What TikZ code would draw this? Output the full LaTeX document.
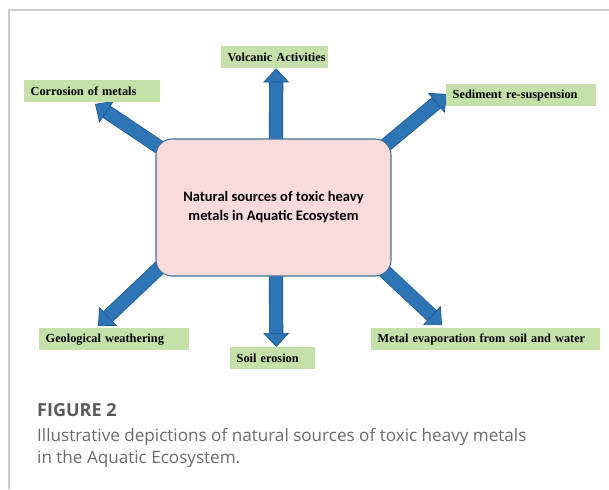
\documentclass[tikz,border=0pt]{standalone}
\usepackage{fontspec}
\setmainfont{Liberation Serif}
\newfontfamily\hubfont{Carlito}
\newfontfamily\capfont{Open Sans}
\usetikzlibrary{arrows.meta,backgrounds}
\definecolor{cHub}{HTML}{F9DBDB}
\definecolor{cHubEdge}{HTML}{41719C}
\definecolor{cLeaf}{HTML}{C5E0A9}
\definecolor{cFlow}{HTML}{2E75B6}
\definecolor{cFlowEdge}{HTML}{1F5A96}
\definecolor{cFrame}{HTML}{CCCCCC}
\definecolor{cCap}{HTML}{6A6A6A}
\tikzset{
  hub/.style={draw=cHubEdge, fill=cHub, line width=1.1pt, rounded corners=16pt,
              minimum width=235pt, minimum height=137pt, align=center,
              font=\hubfont\bfseries\fontsize{14.5}{19}\selectfont},
  leaf/.style={fill=cLeaf, anchor=north west, inner xsep=0pt, inner ysep=0pt,
               minimum height=22pt, text width=#1, align=left,
               font=\bfseries\fontsize{12.3}{14}\selectfont,
               execute at begin node={\hspace*{6.5pt}}},
  fatflow/.style={draw=cFlow, line width=12.6pt,
              -{Triangle[length=14pt, width=26pt, fill=cFlow, color=cFlowEdge, line width=0.7pt]},
              preaction={draw=cFlowEdge, line width=14.2pt, -, shorten >=12pt}},
  capt/.style={anchor=base west, inner sep=0pt, text=cCap,
               font=\capfont\fontsize{17.1}{21.6}\selectfont},
}

\begin{document}
\begin{tikzpicture}[x=1pt,y=-1pt]
\useasboundingbox (0,0) rectangle (609,489);

% ================================================== frame
\draw[cFrame, line width=1.3pt] (9,489) -- (9,10) -- (609,10);

% ================================================== hub
\node[hub] (hub) at (273.5,207.5) {Natural sources of toxic heavy\\metals in Aquatic Ecosystem};

% ================================================== sources
\node[leaf=107pt] (volc) at (221,46)  {Volcanic Activities};
\node[leaf=136pt] (corr) at (24,80)   {Corrosion of metals};
\node[leaf=150pt] (sedi) at (446,84)  {Sediment re-suspension};
\node[leaf=150pt] (geol) at (39,328)  {Geological weathering};
\node[leaf=85pt]  (soil) at (230,347) {Soil erosion};
\node[leaf=229pt] (meta) at (371,328) {Metal evaporation from soil and water};

% ================================================== arrows (behind the hub)
\coordinate (sUL) at (180,161); \coordinate (eUL) at (95,104);
\coordinate (sUR) at (363,164); \coordinate (eUR) at (447,94);
\coordinate (sLL) at (175,253); \coordinate (eLL) at (98,326);
\coordinate (sLR) at (365,253); \coordinate (eLR) at (442,325);
\begin{scope}[on background layer]
  \draw[fatflow] ([xshift=2.5pt,yshift=-12pt]hub.north) -- ([xshift=1.5pt]volc.south);
  \draw[fatflow] ([xshift=2.5pt,yshift=12pt]hub.south)  -- ([xshift=3.5pt]soil.north);
  \draw[fatflow] (sUL) -- (eUL);
  \draw[fatflow] (sUR) -- (eUR);
  \draw[fatflow] (sLL) -- (eLL);
  \draw[fatflow] (sLR) -- (eLR);
\end{scope}

% ================================================== caption
\node[capt, text=cCap!85!black, font=\capfont\bfseries\fontsize{18}{21.6}\selectfont]
      (fig) at (37,416.7) {FIGURE 2};
\node[capt] (cap1) at (37,441.7) {Illustrative depictions of natural sources of toxic heavy metals};
\node[capt] (cap2) at (37,463.3) {in the Aquatic Ecosystem.};

\end{tikzpicture}
\end{document}
